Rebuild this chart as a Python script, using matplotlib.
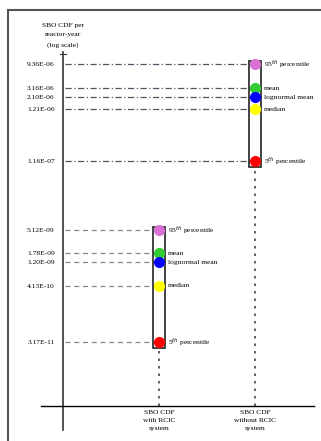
import matplotlib
matplotlib.use("Agg")
import matplotlib.pyplot as plt
import numpy as np

# values read (roughly) off the reference, per reactor-year
stat_labels = ["95$^{th}$ percentile", "mean", "lognormal mean", "median", "5$^{th}$ percentile"]
stat_colors = ["orchid", "limegreen", "blue", "yellow", "red"]
without_vals = [9.36e-06, 3.16e-06, 2.10e-06, 1.21e-06, 1.16e-07]
with_vals = [5.12e-09, 1.78e-09, 1.20e-09, 4.13e-10, 3.17e-11]
case_labels = ["SBO CDF\nwith RCIC\nsystem", "SBO CDF\nwithout RCIC\nsystem"]
tick_fmt = "{:.2E}"

W, H = 321, 441
fig = plt.figure(figsize=(W / 100, H / 100), dpi=100)
plt.rcParams["font.family"] = ["Liberation Serif", "DejaVu Serif"]
fs = 5.4

# outer frame
fig.add_artist(plt.Rectangle((8 / W, -0.01), 1.0, 1 - 10 / H + 0.01, transform=fig.transFigure,
                             fill=False, edgecolor="#555555", lw=1.5))

x0, x1, y_top, y_bot = 63, 314, 52, 406
ax = fig.add_axes([x0 / W, 1 - y_bot / H, (x1 - x0) / W, (y_bot - y_top) / H])
ax.set_yscale("log")
px_dec = 50.9
ymax = without_vals[0] * 10 ** (12 / px_dec)
ymin = ymax / 10 ** ((y_bot - y_top) / px_dec)
ax.set_ylim(ymin, ymax)
ax.set_xlim(0, 1)
for s in ax.spines.values():
    s.set_visible(False)
ax.set_xticks([])
ax.minorticks_off()

# axis lines drawn by hand so they overshoot the corner
ax.plot([0, 0], [-0.068, 1.0], transform=ax.transAxes, color="#333333", lw=1.2, clip_on=False)
ax.plot([-0.088, 1.0], [0, 0], transform=ax.transAxes, color="black", lw=1.0, clip_on=False)
ax.plot([-0.012, 0.012], [0.995, 0.995], transform=ax.transAxes, color="#333333", lw=0.8, clip_on=False)

xs = [(159 - x0) / (x1 - x0), (255 - x0) / (x1 - x0)]
bw = 12 / (x1 - x0)
styles = [(0, (4, 3)), (0, (5, 2, 1, 2))]
line_cols = ["#888888", "#555566"]

for xc, vals, ls, lc in zip(xs, [with_vals, without_vals], styles, line_cols):
    top = vals[0] * 10 ** (3 / px_dec)
    bot = vals[-1] / 10 ** (6 / px_dec)
    ax.add_patch(plt.Rectangle((xc - bw / 2, bot), bw, top - bot, fill=False,
                               edgecolor="#222222", lw=1.2, zorder=2))
    ax.plot([xc, xc], [ymin, bot], color="#444444", lw=1.2, ls=(0, (1.5, 3)), zorder=1)
    for v, c, lab in zip(vals, stat_colors, stat_labels):
        ax.plot([0.008, xc - bw / 2], [v, v], color=lc, lw=0.9, ls=ls, zorder=1)
        ax.plot(xc, v, "o", color=c, ms=7, zorder=3)
        ax.text(xc + bw / 2 + 0.01, v, lab, fontsize=fs, va="center", ha="left")

ticks = with_vals + without_vals
ax.set_yticks(ticks)
ax.set_yticklabels([tick_fmt.format(t) for t in ticks], fontsize=fs)
ax.tick_params(axis="y", length=0, pad=6)

for xc, lab in zip(xs, case_labels):
    ax.text(xc, -0.012, lab, transform=ax.transAxes, fontsize=fs, ha="center", va="top",
            linespacing=1.7)

ax.text(0, 1.012, "SBO CDF per\nreactor-year\n(log scale)", transform=ax.transAxes,
        fontsize=fs, ha="center", va="bottom", linespacing=2.1)

fig.savefig("out.png", dpi=100)
